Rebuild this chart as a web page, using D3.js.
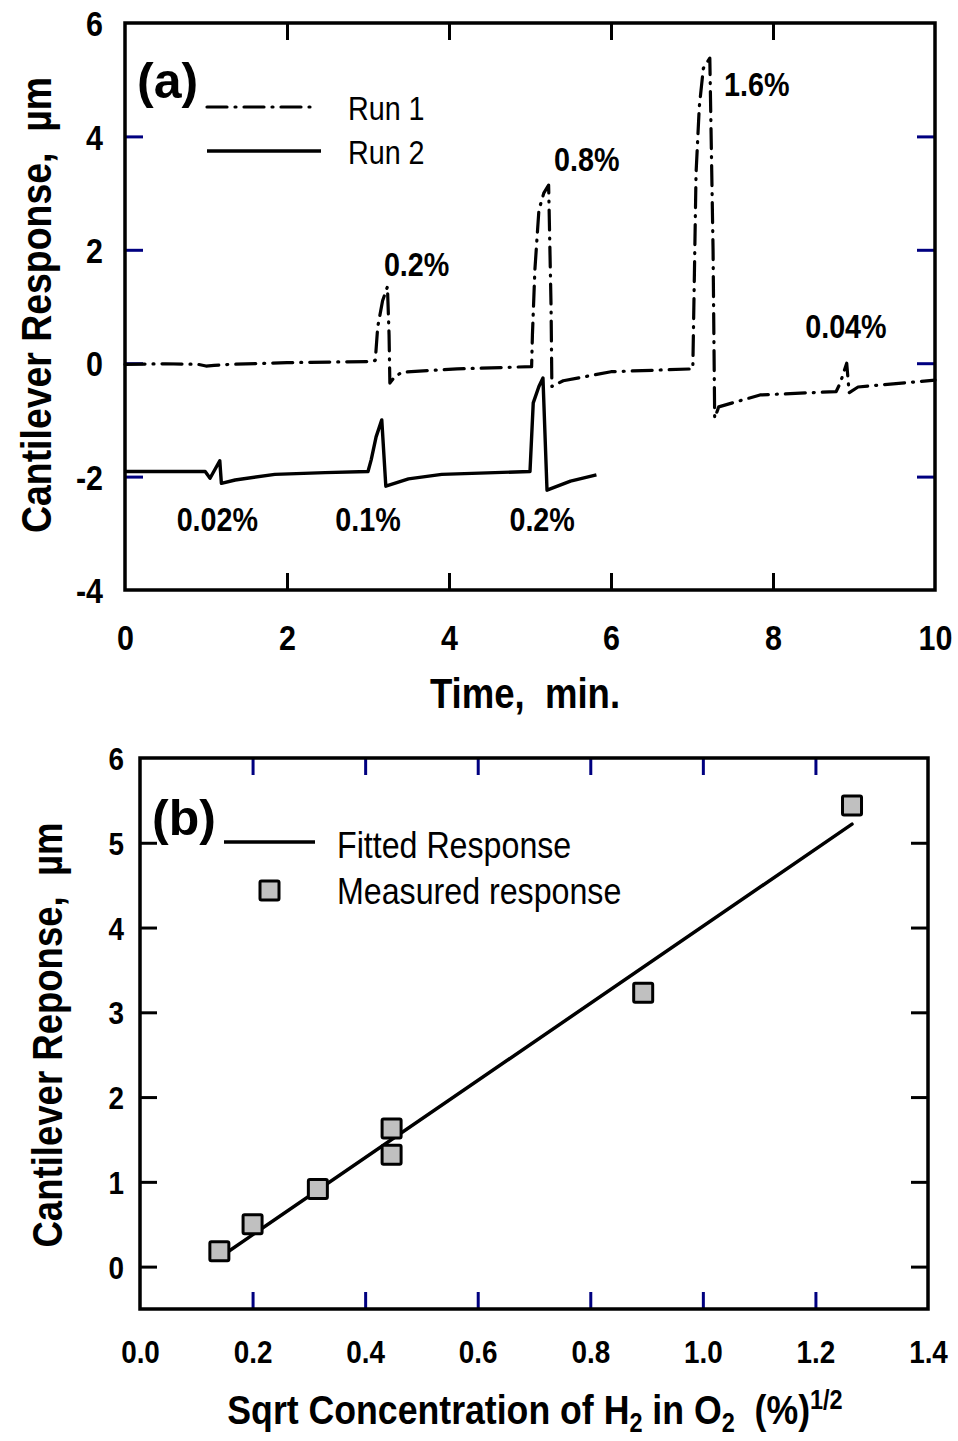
<!DOCTYPE html>
<html>
<head>
<meta charset="utf-8">
<script src="https://cdn.jsdelivr.net/npm/d3@7"></script>
<style>
  body { margin: 0; background: #fff; }
  svg { display: block; }
  text { font-family: "Liberation Sans", Arial, sans-serif; fill: #000; }
  .bold { font-weight: bold; }
  .axis path { display: none; }
</style>
</head>
<body>
<div id="chart"></div>
<script>
// ---- panel (a): time traces ----
const run1Time = [0, 0.5, 0.9, 1.0, 1.1, 1.3, 2.0, 3.05, 3.09, 3.12, 3.18, 3.24, 3.26, 3.27, 3.33, 3.42, 4.1,
  5.02, 5.03, 5.06, 5.11, 5.17, 5.23, 5.26, 5.27, 5.41, 6.0,
  7.01, 7.03, 7.05, 7.09, 7.14, 7.22, 7.26, 7.28, 7.33, 7.84, 8.78, 8.83, 8.91, 8.94, 9.05, 10.0];
const run1Resp = [-0.02, -0.01, -0.02, -0.05, -0.04, -0.02, 0.01, 0.03, 0.05, 0.64, 1.1, 1.35, 0.5, -0.35, -0.24, -0.16, -0.1,
  -0.06, 0.5, 1.64, 2.7, 3.0, 3.14, 1.0, -0.41, -0.31, -0.15,
  -0.1, 1.6, 3.35, 4.52, 5.2, 5.38, 2.0, -0.97, -0.77, -0.56, -0.5, -0.35, 0.0, -0.52, -0.42, -0.3];

const run2Time = [0, 0.99, 1.05, 1.17, 1.19, 1.36, 1.85, 2.47, 3.0, 3.04, 3.1, 3.17, 3.22, 3.5, 3.91, 5.0,
  5.04, 5.11, 5.16, 5.21, 5.5, 5.82];
const run2Resp = [-1.91, -1.91, -2.03, -1.72, -2.12, -2.06, -1.96, -1.93, -1.91, -1.7, -1.3, -1.0, -2.17, -2.04, -1.96, -1.91,
  -0.7, -0.41, -0.26, -2.24, -2.08, -1.97];

const peakLabels = ['0.2%', '0.8%', '1.6%', '0.04%', '0.02%', '0.1%', '0.2%'];
const peakLabelTime = [3.6, 5.7, 7.8, 8.9, 1.14, 3.0, 5.15];
const peakLabelResp = [1.75, 3.6, 4.92, 0.65, -2.75, -2.75, -2.75];

const timeTicks = [0, 2, 4, 6, 8, 10];
const respTicksA = [-4, -2, 0, 2, 4, 6];

// ---- panel (b): response vs sqrt concentration ----
const sqrtConc = [0.141, 0.2, 0.316, 0.447, 0.447, 0.894, 1.265];
const measured = [0.18, 0.50, 0.915, 1.63, 1.32, 3.23, 5.44];
const fitX = [0.155, 1.265];
const fitY = [0.17, 5.22];
const concTicks = [0, 0.2, 0.4, 0.6, 0.8, 1.0, 1.2, 1.4];
const respTicksB = [0, 1, 2, 3, 4, 5, 6];

const navy = '#000080';
const K = 0.87; // horizontal squeeze to mimic a narrow face

// squeeze text horizontally, keeping its anchor point in place
function narrow(sel, k = K) {
  sel.each(function () {
    const t = d3.select(this);
    const x = +(t.attr('x') || 0);
    const tr = t.attr('transform') || '';
    t.attr('x', x / k).attr('transform', `${tr} scale(${k},1)`);
  });
}

const svg = d3.select('#chart').append('svg').attr('width', 958).attr('height', 1441);

// ================= panel (a) =================
const xa = d3.scaleLinear().domain([0, 10]).range([125, 935]);
const ya = d3.scaleLinear().domain([-4, 6]).range([590, 23]);
const ga = svg.append('g');

// inner ticks
ga.append('g').attr('class', 'axis').attr('transform', `translate(0,${ya(-4)})`)
  .call(d3.axisBottom(xa).tickValues([2, 4, 6, 8]).tickSize(-17).tickFormat(''))
  .selectAll('line').attr('stroke', '#000').attr('stroke-width', 3);
ga.append('g').attr('class', 'axis').attr('transform', `translate(0,${ya(6)})`)
  .call(d3.axisTop(xa).tickValues([2, 4, 6, 8]).tickSize(-17).tickFormat(''))
  .selectAll('line').attr('stroke', '#000').attr('stroke-width', 3);
ga.append('g').attr('class', 'axis').attr('transform', `translate(${xa(0)},0)`)
  .call(d3.axisLeft(ya).tickValues([-2, 0, 2, 4]).tickSize(-18).tickFormat(''))
  .selectAll('line').attr('stroke', navy).attr('stroke-width', 3);
ga.append('g').attr('class', 'axis').attr('transform', `translate(${xa(10)},0)`)
  .call(d3.axisRight(ya).tickValues([-2, 0, 2, 4]).tickSize(-18).tickFormat(''))
  .selectAll('line').attr('stroke', navy).attr('stroke-width', 3);

// tick labels
const xla = ga.append('g').attr('class', 'axis').attr('transform', `translate(0,${ya(-4)})`)
  .call(d3.axisBottom(xa).tickValues(timeTicks).tickSize(0).tickPadding(35).tickFormat(d => String(d)));
xla.selectAll('text').attr('class', 'bold').style('font-size', '35px').attr('fill', '#000').call(narrow);
const yla = ga.append('g').attr('class', 'axis').attr('transform', `translate(${xa(0)},0)`)
  .call(d3.axisLeft(ya).tickValues(respTicksA).tickSize(0).tickPadding(22).tickFormat(d => String(d)));
yla.selectAll('text').attr('class', 'bold').style('font-size', '35px').attr('fill', '#000').attr('dy', '0.36em').call(narrow);

ga.append('rect').attr('x', xa(0)).attr('y', ya(6)).attr('width', xa(10) - xa(0)).attr('height', ya(-4) - ya(6))
  .attr('fill', 'none').attr('stroke', '#000').attr('stroke-width', 3.5);

const lineA = d3.line().x(d => xa(d[0])).y(d => ya(d[1]));
ga.append('path').datum(d3.zip(run1Time, run1Resp)).attr('d', lineA)
  .attr('fill', 'none').attr('stroke', '#000').attr('stroke-width', 3.2)
  .attr('stroke-dasharray', '20,8,1,8').attr('stroke-linecap', 'round').attr('stroke-linejoin', 'round');
ga.append('path').datum(d3.zip(run2Time, run2Resp)).attr('d', lineA)
  .attr('fill', 'none').attr('stroke', '#000').attr('stroke-width', 3.4).attr('stroke-linejoin', 'round');

ga.selectAll('text.peak').data(peakLabels).join('text')
  .attr('class', 'peak bold')
  .attr('x', (d, i) => xa(peakLabelTime[i])).attr('y', (d, i) => ya(peakLabelResp[i]))
  .attr('text-anchor', 'middle').attr('dy', '0.36em').style('font-size', '33px')
  .text(d => d).call(narrow);

ga.append('text').attr('class', 'bold').attr('x', 137).attr('y', 98).style('font-size', '50px').text('(a)');

// legend (a)
ga.append('line').attr('x1', 207).attr('x2', 313).attr('y1', 107).attr('y2', 107)
  .attr('stroke', '#000').attr('stroke-width', 3.2).attr('stroke-dasharray', '20,8,1,8').attr('stroke-linecap', 'round');
ga.append('line').attr('x1', 207).attr('x2', 321).attr('y1', 151).attr('y2', 151)
  .attr('stroke', '#000').attr('stroke-width', 3.4);
ga.append('text').attr('x', 348).attr('y', 108).attr('dy', '0.36em').style('font-size', '33px').text('Run 1').call(narrow);
ga.append('text').attr('x', 348).attr('y', 152).attr('dy', '0.36em').style('font-size', '33px').text('Run 2').call(narrow);

ga.append('text').attr('class', 'bold').attr('x', 525).attr('y', 693).attr('dy', '0.36em')
  .attr('text-anchor', 'middle').style('font-size', '42px').attr('xml:space', 'preserve').text('Time,  min.').call(narrow);
ga.append('text').attr('class', 'bold').attr('transform', 'translate(36,305) rotate(-90)').attr('dy', '0.36em')
  .attr('text-anchor', 'middle').style('font-size', '43px').attr('xml:space', 'preserve')
  .text('Cantilever Response,  \u00b5m').call(narrow);

// ================= panel (b) =================
const xb = d3.scaleLinear().domain([0, 1.4]).range([140, 928]);
const yb = d3.scaleLinear().domain([-0.5, 6]).range([1309, 758]);
const gb = svg.append('g');

gb.append('g').attr('class', 'axis').attr('transform', `translate(0,${yb(-0.5)})`)
  .call(d3.axisBottom(xb).tickValues([0.2, 0.4, 0.6, 0.8, 1.0, 1.2]).tickSize(-17).tickFormat(''))
  .selectAll('line').attr('stroke', navy).attr('stroke-width', 3);
gb.append('g').attr('class', 'axis').attr('transform', `translate(0,${yb(6)})`)
  .call(d3.axisTop(xb).tickValues([0.2, 0.4, 0.6, 0.8, 1.0, 1.2]).tickSize(-17).tickFormat(''))
  .selectAll('line').attr('stroke', navy).attr('stroke-width', 3);
gb.append('g').attr('class', 'axis').attr('transform', `translate(${xb(0)},0)`)
  .call(d3.axisLeft(yb).tickValues([0, 1, 2, 3, 4, 5]).tickSize(-17).tickFormat(''))
  .selectAll('line').attr('stroke', '#000').attr('stroke-width', 3);
gb.append('g').attr('class', 'axis').attr('transform', `translate(${xb(1.4)},0)`)
  .call(d3.axisRight(yb).tickValues([0, 1, 2, 3, 4, 5]).tickSize(-17).tickFormat(''))
  .selectAll('line').attr('stroke', '#000').attr('stroke-width', 3);

const xlb = gb.append('g').attr('class', 'axis').attr('transform', `translate(0,${yb(-0.5)})`)
  .call(d3.axisBottom(xb).tickValues(concTicks).tickSize(0).tickPadding(31).tickFormat(d3.format('.1f')));
xlb.selectAll('text').attr('class', 'bold').style('font-size', '32px').attr('fill', '#000').call(narrow);
const ylb = gb.append('g').attr('class', 'axis').attr('transform', `translate(${xb(0)},0)`)
  .call(d3.axisLeft(yb).tickValues(respTicksB).tickSize(0).tickPadding(16).tickFormat(d => String(d)));
ylb.selectAll('text').attr('class', 'bold').style('font-size', '32px').attr('fill', '#000').attr('dy', '0.36em').call(narrow);

gb.append('rect').attr('x', xb(0)).attr('y', yb(6)).attr('width', xb(1.4) - xb(0)).attr('height', yb(-0.5) - yb(6))
  .attr('fill', 'none').attr('stroke', '#000').attr('stroke-width', 3.5);

const lineB = d3.line().x(d => xb(d[0])).y(d => yb(d[1]));
gb.append('path').datum(d3.zip(fitX, fitY)).attr('d', lineB)
  .attr('fill', 'none').attr('stroke', '#000').attr('stroke-width', 3.5).attr('stroke-linecap', 'round');

gb.selectAll('rect.pt').data(d3.zip(sqrtConc, measured)).join('rect')
  .attr('class', 'pt')
  .attr('x', d => xb(d[0]) - 9.5).attr('y', d => yb(d[1]) - 9.5)
  .attr('width', 19).attr('height', 19).attr('rx', 1.5)
  .attr('fill', '#c0c0c0').attr('stroke', '#000').attr('stroke-width', 3);

gb.append('text').attr('class', 'bold').attr('x', 152).attr('y', 835).style('font-size', '50px').text('(b)');

// legend (b)
gb.append('line').attr('x1', 224).attr('x2', 315).attr('y1', 842).attr('y2', 842)
  .attr('stroke', '#000').attr('stroke-width', 3.5);
gb.append('rect').attr('x', 260).attr('y', 881).attr('width', 19).attr('height', 19).attr('rx', 1.5)
  .attr('fill', '#c0c0c0').attr('stroke', '#000').attr('stroke-width', 3);
gb.append('text').attr('x', 337).attr('y', 845).attr('dy', '0.36em').style('font-size', '37px').text('Fitted Response').call(narrow);
gb.append('text').attr('x', 337).attr('y', 891).attr('dy', '0.36em').style('font-size', '37px').text('Measured response').call(narrow);

const xt = gb.append('text').attr('class', 'bold').attr('x', 535).attr('y', 1424)
  .attr('text-anchor', 'middle').style('font-size', '41px').attr('xml:space', 'preserve');
xt.append('tspan').text('Sqrt Concentration of H');
xt.append('tspan').attr('dy', 8).style('font-size', '27px').text('2');
xt.append('tspan').attr('dy', -8).text(' in O');
xt.append('tspan').attr('dy', 8).style('font-size', '27px').text('2');
xt.append('tspan').attr('dy', -8).text('  (%)');
xt.append('tspan').attr('dy', -15).style('font-size', '27px').text('1/2');
xt.call(narrow);

gb.append('text').attr('class', 'bold').attr('transform', 'translate(47,1035) rotate(-90)').attr('dy', '0.36em')
  .attr('text-anchor', 'middle').style('font-size', '42px').attr('xml:space', 'preserve')
  .text('Cantilever Reponse,  \u00b5m').call(narrow);
</script>
</body>
</html>
